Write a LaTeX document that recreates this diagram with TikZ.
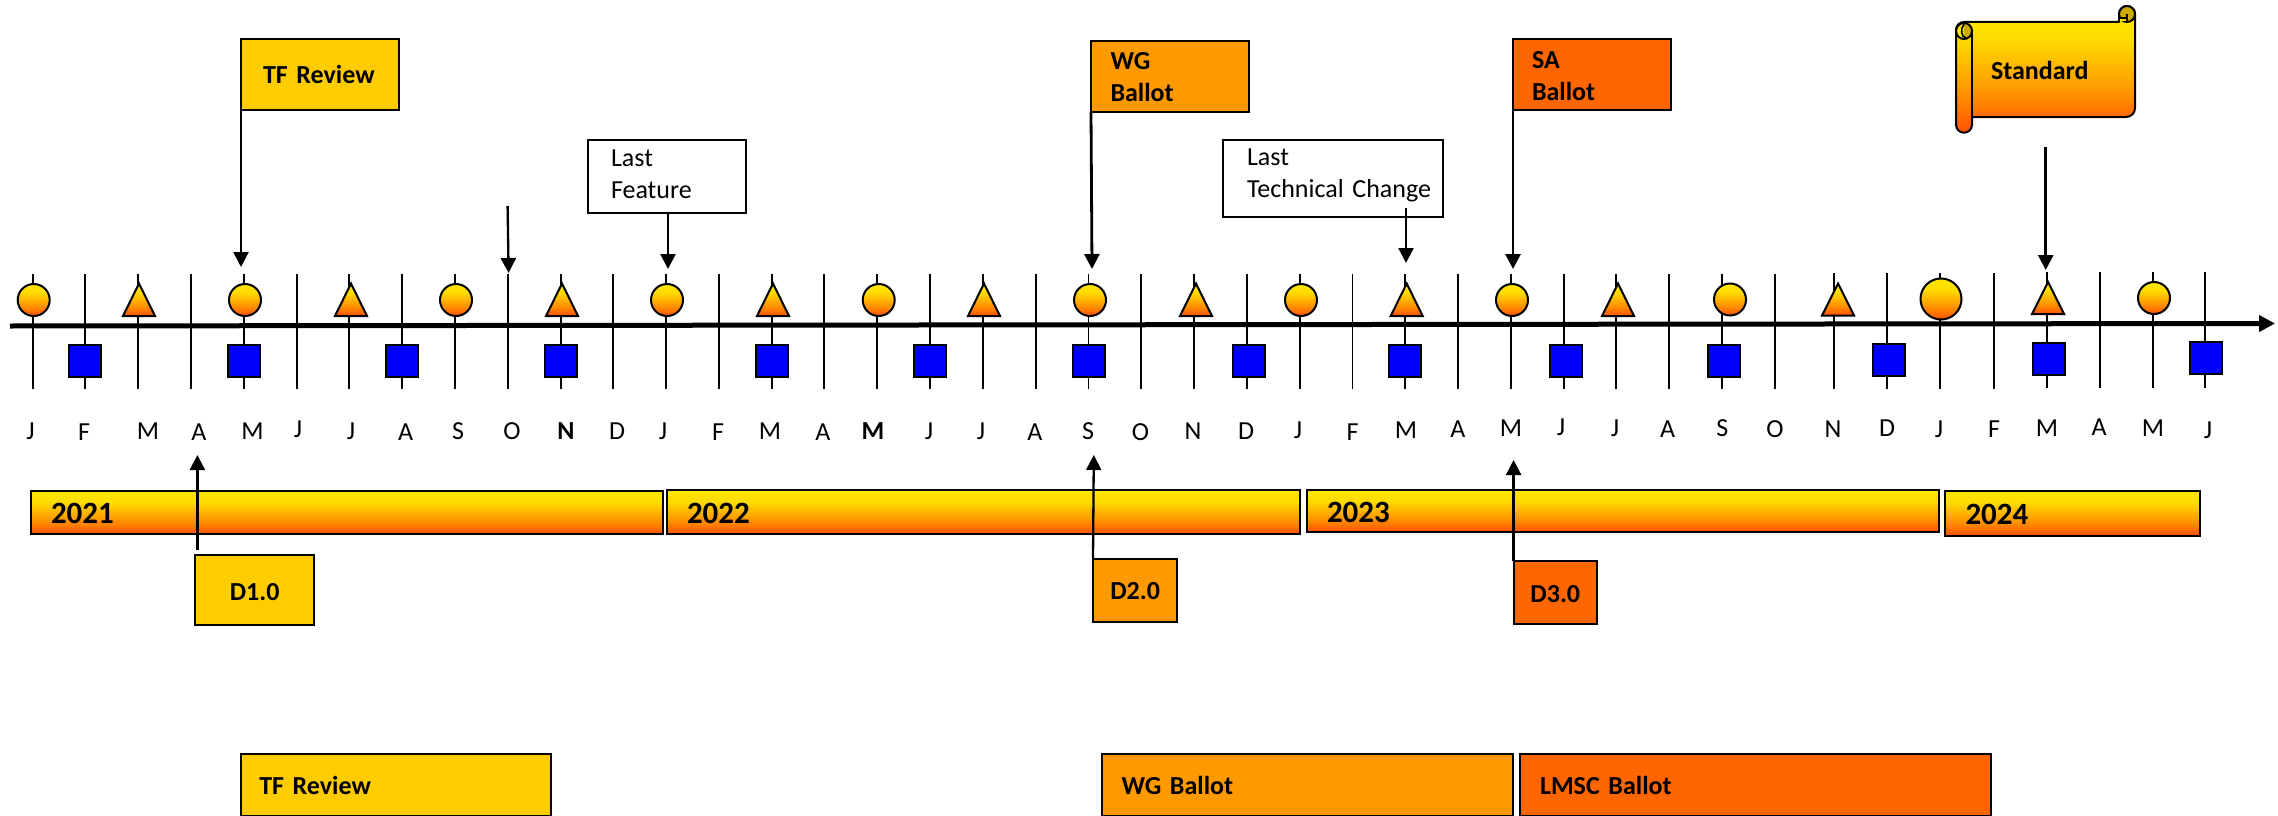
\documentclass[tikz,border=0pt]{standalone}
\usepackage{fontspec}
\setmainfont{Carlito}
\usetikzlibrary{arrows.meta}
\definecolor{tfy}{HTML}{FFCC00}
\definecolor{wgo}{HTML}{FF9900}
\definecolor{sao}{HTML}{FF6600}
\definecolor{curl}{HTML}{CCAA00}
\definecolor{fireA}{HTML}{FF5000}
\definecolor{fireB}{HTML}{FF9000}
\definecolor{fireC}{HTML}{FFDC00}
\definecolor{fireD}{HTML}{FFE600}
\pgfdeclareverticalshading{fire}{100bp}{color(0bp)=(fireA); color(25bp)=(fireA); color(40bp)=(fireB); color(62bp)=(fireC); color(75bp)=(fireD); color(100bp)=(fireD)}
\newcommand{\fsr}{\fontsize{26}{32}\selectfont}
\newcommand{\fsb}{\fontsize{26}{32}\selectfont\bfseries}
\newcommand{\fsy}{\fontsize{31}{36}\selectfont\bfseries}
\newcommand{\tp}{\rule{0pt}{24pt}}
\newcommand{\bt}[1]{\rule[-#1pt]{0pt}{#1pt}}
\tikzset{
 every node/.style={outer sep=0pt},
 tick/.style={draw=black,line width=1.9pt},
 axisline/.style={draw=black,line width=5pt,-{Triangle[length=16pt,width=16pt]}},
 ptr/.style={draw=black,line width=2.3pt,-{Triangle[length=15pt,width=15pt]}},
 flag/.style={draw=black,line width=2pt,anchor=north west,align=left,inner ysep=0pt},
 yearbar/.style={flag,shading=fire},
 month/.style={anchor=base,inner sep=0pt,font=\fsr},
 monthb/.style={anchor=base,inner sep=0pt,font=\fsb},
 circ/.style={circle,draw=black,line width=2pt,shading=fire,inner sep=0pt},
 tri/.style={draw=black,line width=2pt,line join=miter,shading=fire},
 sq/.style={rectangle,draw=black,line width=2pt,fill=blue,inner sep=0pt,minimum width=32pt,minimum height=32pt},
 scroll/.style={draw=black,line width=2pt,line join=round},
}
\begin{document}
\begin{tikzpicture}[x=1pt,y=-1pt]
\useasboundingbox (0,0) rectangle (2278,816);
% ticks
\foreach \i/\x/\t/\b in {0/32.6/274/389,1/85.4/274/389,2/138.2/274/389,3/191/274/389,4/243.8/274/389,5/296.6/274/389,6/349.4/274/389,7/402.2/274/389,8/455/274/389,9/507.8/274/389,10/560.6/274/389,11/613.4/274/389,12/666.2/274/389,13/719/274/389,14/771.8/274/389,15/824.4/274/389,16/877.2/274/389,17/930/274/389,18/982.8/274/389,19/1035.6/274/389,20/1088.5/274/389,21/1141.2/274/389,22/1194/274/389,23/1247/274/389,24/1299.7/274/389,25/1352.5/274/389,26/1405/274/389,27/1458/274/389,28/1511/274/389,29/1563.6/274/389,30/1616.4/274/389,31/1669/274/389,32/1722/274/389,33/1775/274/389,34/1834/273/389,35/1887/273/389,36/1940/273/389,37/1994/273/389,38/2047/272/388,39/2100/272/388,40/2153/272/388,41/2205/272/388}{
 \coordinate (ta\i) at (\x,\t);
 \coordinate (tb\i) at (\x,\b);
 \draw[tick] (ta\i) -- (tb\i);
}
% axis
\coordinate (axL) at (10,326);
\coordinate (axR) at (2275,323.5);
\draw[axisline] (axL) -- (axR);
% circles
\foreach \n/\x/\y/\d in {0/33.7/300/32,4/245/300/32,8/456/300/32,12/667/300/32,16/878.7/300/32,20/1090/300/32,24/1301/300/32,28/1512/300/32,32/1730/299.5/32,36/1941/299/41,40/2154/298/32}{
 \node[circ,minimum size=\d pt] (c\n) at (\x,\y) {};
}
% triangles
\foreach \x/\t/\b in {139/283.5/316,351/283.5/316,562/283.5/316,773/283.5/316,984/283.5/316,1196/283.5/316,1406.7/283.5/316,1618/283.5/316,1838/283.5/315.5,2048/282/314}{
 \draw[tri] (\x,\t) -- (\x+16,\b) -- (\x-16,\b) -- cycle;
}
% squares
\foreach \n/\x/\y in {1/85/360.5,4/244/360.5,7/402/360.5,10/561/360.5,14/772/360.5,17/930/360.5,20/1089/360.5,23/1249/360.5,26/1405/360.5,29/1566/360.5,32/1724/360.5,35/1889/359.5,38/2049/359,41/2206/358}{
 \node[sq] (s\n) at (\x,\y) {};
}
% months
\foreach \n/\x/\y/\l in {0/30.6/439/J,1/84/440.7/F,2/148/439/M,3/199/440/A,4/252.5/439/M,5/298/437.6/J,6/351/439/J,7/405.6/440/A,8/458/439/S,9/512/439.5/O,11/617/439/D,12/663/439/J,13/718/440.7/F,14/770/439/M,15/823/440.7/A,17/929/439/J,18/981/439/J,19/1035/440.7/A,20/1088/439/S,21/1140.5/440/O,22/1193/439/N,23/1246/439/D,24/1298/438/J,25/1352.5/440/F,26/1406/438/M,27/1458/437.7/A,28/1511/436.7/M,29/1561/435/J,30/1615/436.7/J,31/1667.7/437.7/A,32/1722.4/436.7/S,33/1775/437.7/O,34/1833/437.7/N,35/1887/436/D,36/1939/437/J,37/1994/437/F,38/2047/436.7/M,39/2099/435.7/A,40/2153/436.7/M,41/2208/438/J}{
 \node[month] (m\n) at (\x,\y) {\l};
}
\node[monthb] (m10) at (566,439) {N};
\node[monthb] (m16) at (873,439) {M};
% year bars
\node[yearbar,minimum width=632pt,minimum height=43pt,inner xsep=20pt,text width=592pt,font=\fsy] (y21) at (31,491) {\rule{0pt}{30pt}2021\bt{7.2}};
\node[yearbar,minimum width=633pt,minimum height=44pt,inner xsep=20pt,text width=593pt,font=\fsy] (y22) at (667,490) {\rule{0pt}{30pt}2022\bt{7.2}};
\node[yearbar,minimum width=631.5pt,minimum height=42pt,inner xsep=20pt,text width=591.5pt,font=\fsy] (y23) at (1307,490) {\rule{0pt}{30pt}2023\bt{6.6}};
\node[yearbar,minimum width=255pt,minimum height=45pt,inner xsep=20.5pt,text width=214pt,font=\fsy] (y24) at (1945,490.7) {\rule{0pt}{30pt}2024\bt{7.4}};
% top flags
\node[flag,fill=tfy,minimum width=158pt,minimum height=71pt,inner xsep=22pt,text width=114pt,font=\fsb] (ftf) at (241,39) {\tp TF Review\bt{5}};
\node[flag,fill=wgo,minimum width=158pt,minimum height=71pt,inner xsep=19.5pt,text width=119pt,font=\fsb] (fwg) at (1091,40.7) {\tp WG\\Ballot\bt{4.4}};
\node[flag,fill=sao,minimum width=158pt,minimum height=71pt,inner xsep=19pt,text width=120pt,font=\fsb] (fsa) at (1513,39) {\tp SA\\Ballot\bt{3.6}};
\node[flag,fill=white,minimum width=158pt,minimum height=73pt,inner xsep=23pt,text width=112pt,font=\fsr] (flf) at (588,139.7) {\tp Last\\Feature\bt{12.4}};
\node[flag,fill=white,minimum width=220pt,minimum height=77.3pt,inner xsep=2pt,text width=216pt,font=\fsr] (flt) at (1223,139.7) {\tp\hspace*{22pt}Last\\\hspace*{22pt}\mbox{Technical Change}\bt{16.8}};
% draft boxes
\node[flag,fill=tfy,minimum width=118.6pt,minimum height=70.6pt,inner xsep=0pt,text width=118.6pt,align=center,font=\fsb] (d1) at (195.4,554.7) {\tp D1.0\bt{4}};
\node[flag,fill=wgo,minimum width=84.3pt,minimum height=63.3pt,inner xsep=0pt,text width=84.3pt,align=center,font=\fsb] (d2) at (1093,558.7) {\tp D2.0\bt{4.8}};
\node[flag,fill=sao,minimum width=83.4pt,minimum height=63pt,inner xsep=0pt,text width=83.4pt,align=center,font=\fsb] (d3) at (1513.6,561) {\tp D3.0\bt{5}};
% bottom bars
\node[flag,fill=tfy,minimum width=310.5pt,minimum height=62pt,inner xsep=18.5pt,text width=273pt,font=\fsb] (btf) at (240.5,754) {\tp TF Review\bt{6}};
\node[flag,fill=wgo,minimum width=411pt,minimum height=62pt,inner xsep=20pt,text width=371pt,font=\fsb] (bwg) at (1101.5,754) {\tp WG Ballot\bt{6}};
\node[flag,fill=sao,minimum width=471pt,minimum height=62pt,inner xsep=20pt,text width=431pt,font=\fsb] (bsa) at (1520,754) {\tp LMSC Ballot\bt{6}};
% scroll
\path[scroll,shading=fire,draw=black]
 (1956,30) arc[start angle=180,end angle=270,x radius=8pt,y radius=-8pt]
 -- (2119,22) -- (2119,14)
 arc[start angle=180,end angle=360,x radius=8pt,y radius=-8pt]
 -- (2135,108) arc[start angle=0,end angle=90,x radius=9pt,y radius=-9pt]
 -- (1972,117) -- (1972,124.7)
 arc[start angle=0,end angle=180,x radius=8pt,y radius=-8pt]
 -- cycle;
\fill[curl] (2127,14) circle[radius=7.5pt];
\draw[scroll] (2127,14) circle[radius=8pt];
\fill[fireD] (2120,18.5) rectangle (2127,21);
\draw[scroll,line width=1.6pt] (2127,14) -- (2127,21);
\draw[scroll] (2119,18) -- (2127,18);
\draw[scroll] (1972,31) -- (1972,117);
\fill[fireD] (1964,31) circle[radius=8pt];
\fill[curl] (1964,23.5) arc[start angle=-90,end angle=90,x radius=7.5pt,y radius=-7.5pt] -- cycle;
\draw[scroll] (1964,31) circle[radius=8pt];
\draw[scroll,line width=1.6pt] (1964,24) .. controls (1960,29) and (1961,37) .. (1966,38);
\node[anchor=base west,inner sep=0pt,font=\fsb] (std) at (1991,79) {Standard};
% pointers
\coordinate (aTF) at (241,267);
\draw[ptr] (ftf.south west) -- (aTF);
\coordinate (fO) at (507.6,206);
\coordinate (aO) at (508.6,273);
\draw[ptr] (fO) -- (aO);
\coordinate (aLF) at (668,269);
\draw[ptr] (flf.south -| aLF) -- (aLF);
\coordinate (aWG) at (1092,269);
\draw[ptr,line width=2.8pt] (fwg.south west) -- (aWG);
\coordinate (sLT) at (1406,208);
\coordinate (aLT) at (1406,263);
\draw[ptr] (sLT) -- (aLT);
\coordinate (aSA) at (1513,269);
\draw[ptr,line width=2.8pt] (fsa.south west) -- (aSA);
\coordinate (sST) at (2045.7,147.3);
\coordinate (aST) at (2045.7,270);
\draw[ptr,line width=2.8pt] (sST) -- (aST);
\coordinate (d1s) at (197.4,550);
\coordinate (u1) at (197.4,455);
\draw[ptr] (d1s) -- (u1);
\coordinate (u2) at (1093.8,455);
\draw[ptr] (d2.north west) -- (u2);
\coordinate (u3) at (1513.6,460);
\draw[ptr] (d3.north west) -- (u3);
\end{tikzpicture}
\end{document}
